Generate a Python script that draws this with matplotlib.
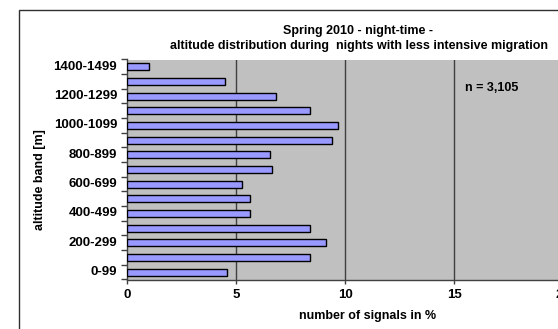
import matplotlib

matplotlib.use("Agg")

import matplotlib.pyplot as plt
from matplotlib.patches import Rectangle

plt.rcParams["font.family"] = ["Liberation Sans", "DejaVu Sans"]

# altitude bands, bottom to top
BANDS = [
    "0-99", "100-199", "200-299", "300-399", "400-499", "500-599",
    "600-699", "700-799", "800-899", "900-999", "1000-1099",
    "1100-1199", "1200-1299", "1300-1399", "1400-1499",
]
SHARE = [4.57, 8.38, 9.14, 8.41, 5.64, 5.64, 5.29, 6.64, 6.56, 9.39,
         9.66, 8.41, 6.82, 4.50, 1.00]
X_TICKS = [0, 5, 10, 15, 20]

BAR_COLOR = "#9999FF"
PLOT_BG = "#C0C0C0"
GRID_COLOR = "#404040"

fig = plt.figure(figsize=(5.58, 3.29), dpi=100)
fig.patch.set_facecolor("white")

# plot area (right part runs past the image edge, like the source crop)
ax = fig.add_axes([127 / 558, 1 - 279.5 / 329, 436 / 558, 220 / 329])
ax.set_facecolor(PLOT_BG)

pos = range(len(BANDS))
ax.barh(pos, SHARE, height=0.48, color=BAR_COLOR, edgecolor="black",
        linewidth=1.0, zorder=3)

ax.set_xlim(0, 20)
ax.set_ylim(-0.5, len(BANDS) - 0.5)

ax.set_xticks(X_TICKS)
ax.set_xticklabels([str(t) for t in X_TICKS], fontsize=9.5, fontweight="bold")
ax.tick_params(axis="x", length=3, width=1, color=GRID_COLOR, pad=4)
for t in X_TICKS[1:-1]:
    ax.axvline(t, color=GRID_COLOR, linewidth=1.0, zorder=2)

# category labels on every other band, tick marks between bands
ax.set_yticks([i - 0.5 for i in range(len(BANDS) + 1)])
ax.set_yticklabels([])
ax.tick_params(axis="y", length=4, width=1, color=GRID_COLOR)
for i, name in enumerate(BANDS):
    if i % 2 == 0:
        ax.text(-0.45, i, name, ha="right", va="center", fontsize=9.5,
                fontweight="bold", transform=ax.transData, clip_on=False)

for side in ("top", "right"):
    ax.spines[side].set_visible(False)
for side in ("left", "bottom"):
    ax.spines[side].set_color(GRID_COLOR)
    ax.spines[side].set_linewidth(1.0)

ax.text(465 / 558, 1 - 88 / 329, "n = 3,105", transform=fig.transFigure,
        fontsize=9, fontweight="bold", ha="left", va="center")

fig.text(358 / 558, 1 - 31 / 329, "Spring 2010 - night-time -",
         fontsize=9, fontweight="bold", ha="center", va="center")
fig.text(359 / 558, 1 - 46 / 329,
         "altitude distribution during  nights with less intensive migration",
         fontsize=9, fontweight="bold", ha="center", va="center")

fig.text(368 / 558, 1 - 316 / 329, "number of signals in %",
         fontsize=9, fontweight="bold", ha="center", va="center")
fig.text(40 / 558, 1 - 180 / 329, "altitude band [m]", rotation=90,
         fontsize=9, fontweight="bold", ha="center", va="center")

# outer chart border, cut off at right and bottom
fig.patches.append(Rectangle((19.5 / 558, -0.1), 1.2, 1 - 9.5 / 329 + 0.1,
                             transform=fig.transFigure, fill=False,
                             edgecolor="#303030", linewidth=1.0))

fig.savefig("out.png", dpi=100)
